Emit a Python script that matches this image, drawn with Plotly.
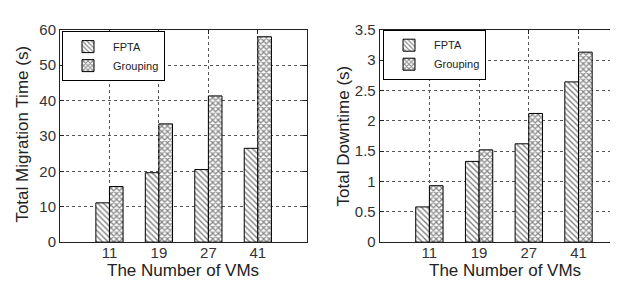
import plotly.graph_objects as go

categories = ["11", "19", "27", "41"]
fpta_migration = [11.1, 19.6, 20.5, 26.5]
grouping_migration = [15.7, 33.4, 41.3, 58.0]
fpta_downtime = [0.58, 1.33, 1.62, 2.64]
grouping_downtime = [0.93, 1.52, 2.12, 3.13]

W, H = 618, 287
FONT = "Liberation Sans"
xpos = list(range(len(categories)))

fig = go.Figure()

def add_pair(fvals, gvals, xa, ya, legend):
    fig.add_trace(go.Bar(
        x=xpos, y=fvals, name="FPTA", xaxis=xa, yaxis=ya, legend=legend,
        marker=dict(color="white", line=dict(color="black", width=1),
                    pattern=dict(shape="\\", size=4, solidity=0.35,
                                 fgcolor="black", bgcolor="white")),
    ))
    fig.add_trace(go.Bar(
        x=xpos, y=gvals, name="Grouping", xaxis=xa, yaxis=ya, legend=legend,
        marker=dict(color="white", line=dict(color="black", width=1),
                    pattern=dict(shape="x", size=4, solidity=0.55,
                                 fgcolor="#111", bgcolor="white")),
    ))

add_pair(fpta_migration, grouping_migration, "x", "y", "legend")
add_pair(fpta_downtime, grouping_downtime, "x2", "y2", "legend2")

ydom = [1 - 239.3 / H, 1 - 13.5 / H]
axis_common = dict(
    showline=True, linecolor="#222", linewidth=1,
    ticks="inside", ticklen=4, tickcolor="#222",
    showgrid=True, gridcolor="#555", griddash="dot", gridwidth=1,
    tickfont=dict(family=FONT, size=15, color="#333"),
    zeroline=False,
)
xaxis_extra = dict(ticklabelstandoff=-3)

legend_common = dict(
    xanchor="left", yanchor="top",
    bordercolor="black", borderwidth=1, bgcolor="white",
    font=dict(family=FONT, size=11, color="#222"),
    itemwidth=40, tracegroupgap=0,
)

fig.update_layout(
    width=W, height=H, margin=dict(l=0, r=0, t=0, b=0),
    paper_bgcolor="white", plot_bgcolor="white",
    barmode="group", bargap=0.45, bargroupgap=0.0,
    font=dict(family=FONT, color="#222"),
    xaxis=dict(domain=[52 / W, 299.3 / W], range=[-1, 4], anchor="y",
               tickvals=xpos, ticktext=categories, mirror="ticks",
               **axis_common, **xaxis_extra),
    yaxis=dict(domain=ydom, range=[0, 60], dtick=10, anchor="x",
               mirror="ticks", **axis_common),
    xaxis2=dict(domain=[371.7 / W, 1.0], range=[-1, 3.956], anchor="y2",
                tickvals=xpos, ticktext=categories, mirror="ticks",
                **axis_common, **xaxis_extra),
    yaxis2=dict(domain=ydom, range=[0, 3.5], dtick=0.5, anchor="x2",
                mirror=False, **axis_common),
    legend=dict(x=54 / W, y=1 - 15 / H, **legend_common),
    legend2=dict(x=375 / W, y=1 - 13.5 / H, **legend_common),
)

titles = [
    ("The Number of VMs", 175, 269, 0),
    ("Total Migration Time (s)", 15, 125, -90),
    ("The Number of VMs", 497, 269, 0),
    ("Total Downtime (s)", 335, 127, -90),
]
for text, px, py, ang in titles:
    fig.add_annotation(text=text, x=px / W, y=1 - py / H, xref="paper", yref="paper",
                       xanchor="center", yanchor="middle", textangle=ang,
                       showarrow=False, font=dict(size=17, family=FONT, color="#222"))

fig.write_html("out.html")
